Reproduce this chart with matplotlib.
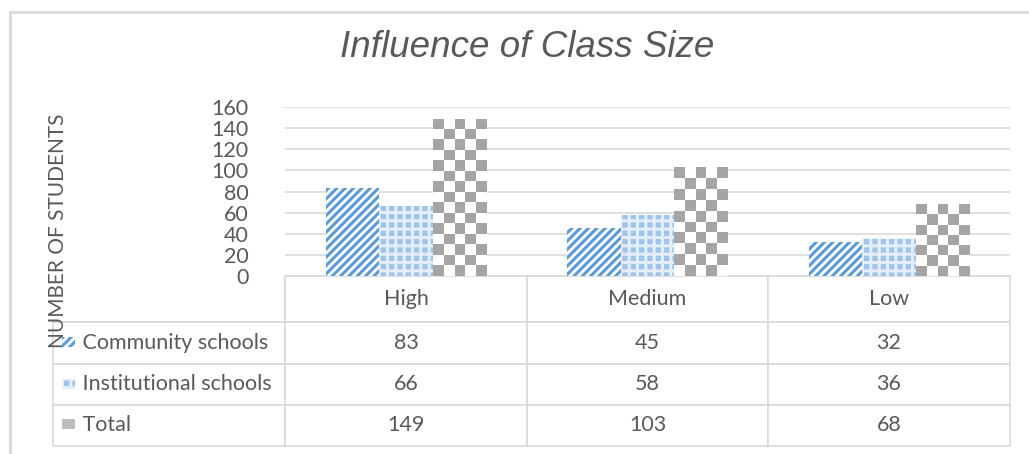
import numpy as np
import matplotlib.pyplot as plt
from matplotlib.patches import Rectangle
from matplotlib.lines import Line2D
from matplotlib.colors import ListedColormap

# class size levels and student counts
levels = ['High', 'Medium', 'Low']
series_names = ['Community schools', 'Institutional schools', 'Total']
community = [83, 45, 32]
institutional = [66, 58, 36]
total = [149, 103, 68]

text_grey = '#595959'
grid_grey = '#d9d9d9'
blue = '#5b9bd5'
inst_face = '#9fc3ea'
inst_hatch = '#e3eefa'

plt.rcParams['font.family'] = ['Lato', 'DejaVu Sans']
plt.rcParams['hatch.linewidth'] = 2.2

fig = plt.figure(figsize=(10.29, 4.54), dpi=100)
ax = fig.add_axes([285 / 1029, 1 - 276 / 454, 725 / 1029, 169 / 454])

x = np.arange(len(levels))
w = 0.221

b1 = ax.bar(x - w, community, w, facecolor='white', edgecolor=blue, hatch='////', lw=0)
b2 = ax.bar(x, institutional, w, facecolor=inst_face, edgecolor=inst_hatch, hatch='++', lw=0)
b3 = ax.bar(x + w, total, w, facecolor='white', lw=0)

# checkerboard fill for the total bars
checker = ListedColormap(['#a5a5a5', 'white'])
px_per_unit = 169 / 160
for bar in b3:
    h = bar.get_height()
    nrows = max(1, int(round(h * px_per_unit / 10.5)))
    board = np.indices((nrows, 5)).sum(axis=0) % 2
    img = ax.imshow(board[::-1], cmap=checker,
                    extent=(bar.get_x(), bar.get_x() + bar.get_width(), 0, h),
                    aspect='auto', interpolation='nearest', zorder=2, origin='lower')
    img.set_clip_path(bar)
ax.set_xlim(-0.5, 2.5)
ax.set_ylim(0, 160)

ax.set_yticks(np.arange(0, 161, 20))
ax.yaxis.grid(True, color=grid_grey, lw=1.2)
ax.set_axisbelow(True)
ax.tick_params(axis='y', length=0, pad=26, labelsize=15.5, labelcolor=text_grey)
ax.set_xticks([])
for s in ax.spines.values():
    s.set_visible(False)

# data table under the bars
cell_text = [[''] + levels]
for name, vals in zip(series_names, [community, institutional, total]):
    cell_text.append(['     ' + name] + [str(v) for v in vals])

tbl = ax.table(cellText=cell_text, cellLoc='center',
               colWidths=[232, 242, 241, 242],
               bbox=[-232 / 725, -170 / 169, 957 / 725, 170 / 169])
tbl.auto_set_font_size(False)
tbl.set_fontsize(15.5)
row_h = [46, 42, 41, 41]
for (r, c), cell in tbl.get_celld().items():
    cell.set_edgecolor(grid_grey)
    cell.set_linewidth(1.2)
    cell.set_height(row_h[r])
    cell.get_text().set_color(text_grey)
    if c == 0:
        cell.get_text().set_ha('left')
        cell._loc = 'left'
        cell.PAD = 0.01
tbl[0, 0].visible_edges = 'BR'

# legend keys inside the table row labels
key_rows = [(342, dict(facecolor='white', edgecolor=blue, hatch='////')),
            (384, dict(facecolor=inst_face, edgecolor=inst_hatch, hatch='++')),
            (424, dict(facecolor='#bfbfbf', edgecolor='white'))]
for yc, style in key_rows:
    fig.add_artist(Rectangle((62 / 1029, 1 - (yc + 5) / 454), 13 / 1029, 10 / 454,
                             lw=0, transform=fig.transFigure, **style))

ax.set_ylabel('NUMBER OF STUDENTS', fontsize=15, color=text_grey)
ax.yaxis.set_label_coords(68 / 1029, 1 - 231 / 454, transform=fig.transFigure)

fig.text(527 / 1029, 1 - 57 / 454, 'Influence of Class Size', ha='center', va='baseline',
         fontsize=26.5, style='italic', family='Liberation Sans', color=text_grey)

# chart frame
fig.add_artist(Line2D([9.5 / 1029, 9.5 / 1029], [0, 1 - 12 / 454], color=grid_grey, lw=2,
                      transform=fig.transFigure))
fig.add_artist(Line2D([9.5 / 1029, 1], [1 - 12 / 454, 1 - 12 / 454], color=grid_grey, lw=2,
                      transform=fig.transFigure))

fig.savefig('out.png', dpi=100)
